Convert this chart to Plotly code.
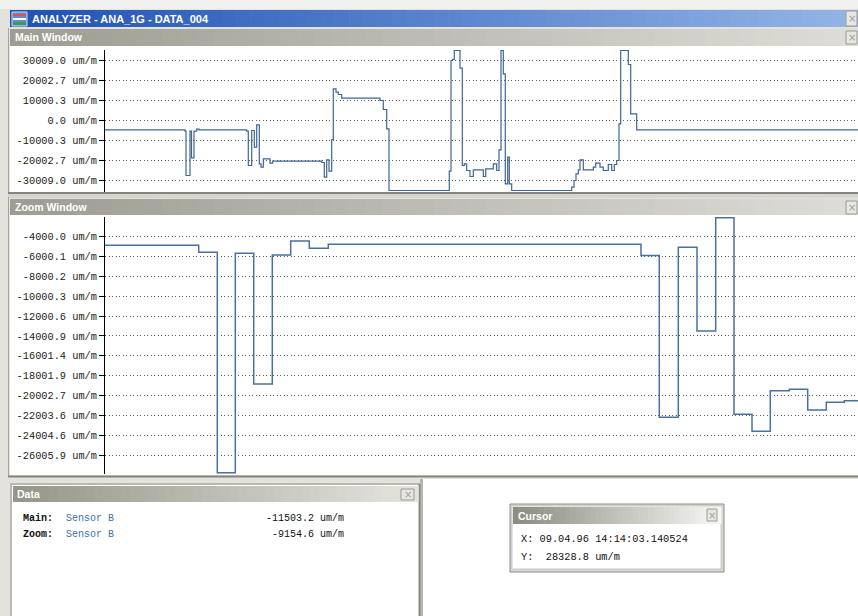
import plotly.graph_objects as go

# ---------------- data ----------------
# Main window (Sensor B), step series: time position and value (um/m)
main_t = [0, 80, 81, 85, 86.5, 89, 91.7, 94, 141.7, 143.3, 146.7, 149.3, 151.7, 154.3, 156,
          158.3, 165, 167.7, 216.7, 219.3, 221.7, 224, 226.7, 228.3, 231, 233.3, 236.7, 275,
          278.3, 281.7, 284, 344.3, 346, 347.3, 349.3, 355, 357.3, 359.3, 361.7, 365, 368.3,
          378.3, 380.7, 388.3, 391.7, 394, 396, 398.3, 400.3, 402.7, 404.3, 406.7, 466.7, 469,
          471, 473.3, 475, 478.3, 488.3, 490.7, 495, 498.3, 503.3, 506.7, 509.3, 511.7, 514,
          515.7, 523.3, 525.7, 531.7, 753]
main_v = [-4700, -5300, -27500, -5300, -18700, -5300, -4300, -4700, -5300, -22500, -5000, -13300,
          -2200, -21700, -23300, -19200, -21300, -20300, -21000, -28300, -19700, -25300, -9500,
          15800, 14200, 13000, 11200, 10000, 5500, -4200, -35000, -25300, 30000, 30500, 35000,
          26200, -22500, -21700, -25000, -28000, -24700, -28000, -24200, -21700, -25000, -14700,
          35000, 23300, -31700, -18300, -31700, -35000, -33300, -30000, -26700, -24700, -19700,
          -24700, -23300, -21300, -23300, -25000, -22000, -25000, -22000, -20000, -1700, 35000,
          28000, 3300, -4700, -4700]

# Zoom window (Sensor B), step series
zoom_t = [0, 93.7, 112.3, 130.3, 148.7, 167.3, 185.7, 204.3, 223.3, 536, 554.3, 573.3, 592,
          610.7, 629, 647, 665.3, 684.3, 702.7, 721.3, 739.3, 753]
zoom_v = [-4850, -5570, -27800, -5680, -18850, -5850, -4430, -5170, -4770, -5900, -22200, -5070,
          -13500, -2100, -21900, -23600, -19520, -19380, -21470, -20700, -20530, -20530]

main_ticks = [30009.0, 20002.7, 10000.3, 0.0, -10000.3, -20002.7, -30009.0]
zoom_ticks = [-4000.0, -6000.1, -8000.2, -10000.3, -12000.6, -14000.9, -16001.4, -18001.9,
              -20002.7, -22003.6, -24004.6, -26005.9]
unit = "um/m"

data_rows = [("Main:", "Sensor B", "-11503.2 um/m"), ("Zoom:", "Sensor B", "-9154.6 um/m")]
cursor_x = "X: 09.04.96 14:14:03.140524"
cursor_y = "Y:  28328.8 um/m"

# ---------------- layout helpers ----------------
W, H = 858, 616
def px(x): return x / W
def py(y): return 1 - y / H

shapes, annos = [], []
MONO = "Courier New, Courier, Nimbus Mono PS, FreeMono, Liberation Mono"
UI = "Liberation Sans"

def rect(x0, y0, x1, y1, fill, line=None, lw=1):
    shapes.append(dict(type="rect", xref="paper", yref="paper", layer="below",
                       x0=px(x0), x1=px(x1), y0=py(y1), y1=py(y0), fillcolor=fill,
                       line=dict(width=lw if line else 0, color=line or "rgba(0,0,0,0)")))

def hline(x0, x1, y, color, w=1):
    shapes.append(dict(type="line", xref="paper", yref="paper", layer="below",
                       x0=px(x0), x1=px(x1), y0=py(y), y1=py(y), line=dict(color=color, width=w)))

def vline(x, y0, y1, color, w=1):
    shapes.append(dict(type="line", xref="paper", yref="paper", layer="below",
                       x0=px(x), x1=px(x), y0=py(y0), y1=py(y1), line=dict(color=color, width=w)))

def hexc(c):
    c = c.lstrip("#"); return [int(c[i:i+2], 16) for i in (0, 2, 4)]

def grad(x0, y0, x1, y1, c0, c1, n=40):
    a, b = hexc(c0), hexc(c1)
    step = (x1 - x0) / n
    for i in range(n):
        f = i / (n - 1)
        col = "rgb(%d,%d,%d)" % tuple(round(a[k] + (b[k] - a[k]) * f) for k in range(3))
        rect(x0 + i * step, y0, x0 + (i + 1) * step + 0.6, y1, col)

def text(x, y, s, size=10, color="#000", family=MONO, anchor="left", bold=False):
    annos.append(dict(xref="paper", yref="paper", x=px(x), y=py(y), text=("<b>%s</b>" % s) if bold else s,
                      showarrow=False, xanchor=anchor, yanchor="middle",
                      font=dict(size=size, color=color, family=family)))

def closebtn(x0, y0, x1, y1, size=10):
    rect(x0, y0, x1, y1, "#e8e7e2", "#9a9a94")
    text((x0 + x1) / 2, (y0 + y1) / 2, "×", size=size, color="#a0a09a", family="DejaVu Sans", anchor="center")

# background pieces
rect(0, 0, W, 9, "#f0f0ee")
# application title bar
grad(10, 10, W, 27, "#1f52b4", "#93b4e6", n=60)
rect(12, 12, 27, 26, "#5d8fc8", "#d0d8e8")
rect(13, 14, 26, 16, "#e05050")
rect(13, 18, 26, 20, "#ffffff")
rect(13, 22, 26, 25, "#3d9a5a")
text(30, 18.5, "ANALYZER - ANA_1G - DATA_004", size=11, color="#ffffff", family=UI, bold=True)
closebtn(846, 11, 857, 26)

# Main window
vline(8.5, 28, 193, "#a6a59e")
grad(10, 29, W, 46, "#9e9d92", "#dedcd6", n=50)
text(13, 37.5, "Main Window", size=10.5, color="#ffffff", family=UI, bold=True)
closebtn(846, 31, 857, 44)
rect(10, 46, W, 192, "#ffffff")
hline(8, W, 193, "#85847e", 2)
rect(8, 194, W, 198, "#d6d5ce")

# Zoom window
vline(8.5, 197, 477, "#a6a59e")
grad(10, 199, W, 215, "#9e9d92", "#dedcd6", n=50)
text(13, 207, "Zoom Window", size=10.5, color="#ffffff", family=UI, bold=True)
closebtn(846, 201, 857, 214)
rect(10, 215, W, 475, "#ffffff")
hline(8, W, 476.5, "#85847e", 2)

# bottom area
rect(423, 479, W, H, "#ffffff")
vline(421.5, 479, H, "#b5b4ae", 3)

# Data panel
rect(11, 484, 421, H + 2, "#ffffff", "#b9b8b2", 2)
vline(419.5, 484, H, "#8a8984", 2)
grad(13, 486, 418, 502, "#979689", "#e4e3dd", n=45)
text(15, 494, "Data", size=10.5, color="#ffffff", family=UI, bold=True)
closebtn(401, 489, 414, 500)
for i, (lab, sens, val) in enumerate(data_rows):
    yy = 518 + i * 16.5
    text(21, yy, lab, size=10, color="#111", bold=True)
    text(64, yy, sens, size=10, color="#3f6fa6")
    text(346, yy, val, size=10, color="#111", anchor="right")

# Cursor panel
rect(510, 504, 724, 572, "#d8d7d1", "#8e8d88", 1)
rect(512, 506, 721, 569, "#ffffff", "#c9c8c2", 1)
grad(513, 507, 721, 524, "#8d8c81", "#f6f6f3", n=40)
text(516, 515.5, "Cursor", size=10.5, color="#ffffff", family=UI, bold=True)
closebtn(707, 509, 717, 521)
text(519, 538.5, cursor_x, size=10.3, color="#111")
text(519, 557, cursor_y, size=10.3, color="#111")

# ---------------- figure ----------------
line_col = "#3d6596"
fig = go.Figure()
fig.add_trace(go.Scatter(x=main_t, y=main_v, mode="lines", line=dict(shape="hv", color=line_col, width=1.2),
                         xaxis="x", yaxis="y", hoverinfo="skip"))
fig.add_trace(go.Scatter(x=zoom_t, y=zoom_v, mode="lines", line=dict(shape="hv", color="#4a70a0", width=1.5),
                         xaxis="x2", yaxis="y2", hoverinfo="skip"))

tick_font = dict(family=MONO, size=10.3, color="#222")
yax_common = dict(showline=True, linecolor="#000", linewidth=1, ticks="outside", ticklen=5, tickcolor="#000",
                  tickwidth=1, showgrid=True, gridcolor="#5a5a5a", gridwidth=1, griddash="1px,2.5px",
                  zeroline=False, tickfont=tick_font, fixedrange=True)
xax_common = dict(showline=False, showgrid=False, zeroline=False, showticklabels=False, ticks="", fixedrange=True)

fig.update_layout(
    width=W, height=H, margin=dict(l=0, r=0, t=0, b=0, pad=0),
    paper_bgcolor="#e3e2dc", plot_bgcolor="rgba(0,0,0,0)", showlegend=False, hovermode=False,
    xaxis=dict(domain=[px(105), 1.0], range=[0, 753], anchor="y", **xax_common),
    yaxis=dict(domain=[py(191.5), py(49.5)], range=[-35500, 35500], anchor="x",
               tickvals=main_ticks, ticktext=["%.1f %s" % (v, unit) for v in main_ticks], **yax_common),
    xaxis2=dict(domain=[px(105), 1.0], range=[0, 753], anchor="y2", **xax_common),
    yaxis2=dict(domain=[py(474), py(217)], range=[-27921, -2014], anchor="x2",
                tickvals=zoom_ticks, ticktext=["%.1f %s" % (v, unit) for v in zoom_ticks], **yax_common),
    shapes=shapes, annotations=annos,
)

fig.write_html("out.html", config={"displayModeBar": False, "staticPlot": True},
               post_script="document.body.style.margin='0';document.body.style.padding='0';"
                           "document.documentElement.style.overflow='hidden';")
